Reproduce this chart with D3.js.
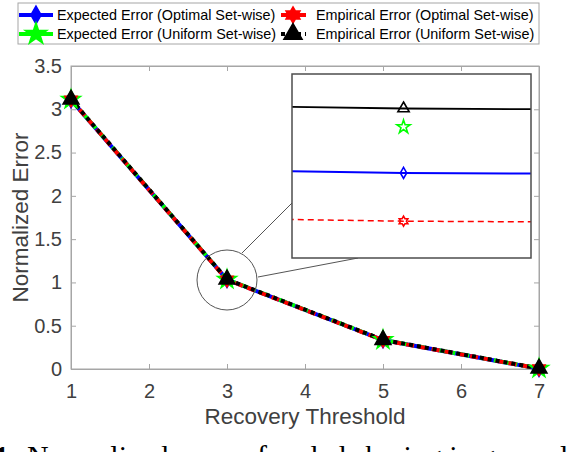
<!DOCTYPE html>
<html lang="en">
<head>
<meta charset="UTF-8">
<script src="https://d3js.org/d3.v7.min.js"></script>
<title>Normalized Error</title>
<style>
  body { margin: 0; background: #fff; }
  svg { display: block; font-family: "Liberation Sans", Arial, sans-serif; }
</style>
</head>
<body>
<script>
// data
var thresholds = [1, 3, 5, 7];
var expectedOptimal = [3.108, 1.0322, 0.334, 0.004];
var expectedUniform = [3.112, 1.0342, 0.336, 0.006];
var empiricalOptimal = [3.110, 1.0301, 0.333, 0.005];
var empiricalUniform = [3.115, 1.0350, 0.337, 0.007];
var seriesNames = [
  "Expected Error (Optimal Set-wise)",
  "Expected Error (Uniform Set-wise)",
  "Empirical Error (Optimal Set-wise)",
  "Empirical Error (Uniform Set-wise)"
];
var xTicks = [1, 2, 3, 4, 5, 6, 7];
var yTicks = [0, 0.5, 1, 1.5, 2, 2.5, 3, 3.5];

var width = 568, height = 452;
var svg = d3.select("body").append("svg")
  .attr("width", width)
  .attr("height", height);

var x = d3.scaleLinear().domain([1, 7]).range([71, 539]);
var y = d3.scaleLinear().domain([0, 3.5]).range([369, 66]);

// hexagram (6 point star) for red series
var symbolHexagram = {
  draw: function (ctx, size) {
    var r = Math.sqrt(size) * 0.62, ri = r * 0.577;
    for (var i = 0; i < 12; i++) {
      var a = -Math.PI / 2 + i * Math.PI / 6;
      var rr = i % 2 === 0 ? r : ri;
      if (i === 0) ctx.moveTo(rr * Math.cos(a), rr * Math.sin(a));
      else ctx.lineTo(rr * Math.cos(a), rr * Math.sin(a));
    }
    ctx.closePath();
  }
};

var series = [
  { name: seriesNames[0], values: expectedOptimal, color: "#0000ff", dash: null, symbol: d3.symbolDiamond, size: 70, inset: true, insetDash: null, insetWidth: 2 },
  { name: seriesNames[1], values: expectedUniform, color: "#00ff00", dash: "10,4,3,4", symbol: d3.symbolStar, size: 110, inset: false },
  { name: seriesNames[2], values: empiricalOptimal, color: "#ff0000", dash: "8,5", symbol: symbolHexagram, size: 130, inset: true, insetDash: "6,4", insetWidth: 1.5 },
  { name: seriesNames[3], values: empiricalUniform, color: "#000000", dash: "4,4", symbol: d3.symbolTriangle, size: 110, inset: true, insetDash: "1,1.5", insetWidth: 1.8 }
];

// axes
var axisColor = "#a6a6a6", labelColor = "#404040";

svg.append("rect")
  .attr("x", x(1)).attr("y", y(3.5))
  .attr("width", x(7) - x(1)).attr("height", y(0) - y(3.5))
  .attr("fill", "none").attr("stroke", axisColor);

var gx = svg.append("g").attr("transform", "translate(0," + y(0) + ")")
  .call(d3.axisBottom(x).tickValues(xTicks).tickSize(-5).tickPadding(8).tickFormat(d3.format("d")));
var gxTop = svg.append("g").attr("transform", "translate(0," + y(3.5) + ")")
  .call(d3.axisTop(x).tickValues(xTicks).tickSize(-5).tickFormat(""));
var gy = svg.append("g").attr("transform", "translate(" + x(1) + ",0)")
  .call(d3.axisLeft(y).tickValues(yTicks).tickSize(-5).tickPadding(9).tickFormat(d3.format("")));
var gyRight = svg.append("g").attr("transform", "translate(" + x(7) + ",0)")
  .call(d3.axisRight(y).tickValues(yTicks).tickSize(-5).tickFormat(""));

[gx, gxTop, gy, gyRight].forEach(function (g) {
  g.select(".domain").attr("stroke", axisColor);
  g.selectAll(".tick line").attr("stroke", axisColor);
  g.selectAll(".tick text").attr("fill", labelColor)
    .style("font-size", "20px").style("font-family", "Liberation Sans, Arial, sans-serif");
});
gx.selectAll(".tick text").attr("dy", "1.05em");

svg.append("text")
  .attr("x", (x(1) + x(7)) / 2).attr("y", 424)
  .attr("text-anchor", "middle").attr("fill", labelColor)
  .style("font-size", "22.5px")
  .text("Recovery Threshold");

svg.append("text")
  .attr("transform", "translate(28," + (y(0) + y(3.5)) / 2 + ") rotate(-90)")
  .attr("text-anchor", "middle").attr("fill", labelColor)
  .style("font-size", "22.5px")
  .text("Normalized Error");

// main lines
var line = d3.line()
  .x(function (d, i) { return x(thresholds[i]); })
  .y(function (d) { return y(d); });

series.forEach(function (s) {
  svg.append("path")
    .datum(s.values)
    .attr("fill", "none")
    .attr("stroke", s.color)
    .attr("stroke-width", 4)
    .attr("stroke-dasharray", s.dash)
    .attr("d", line);
});

series.forEach(function (s) {
  svg.selectAll(null)
    .data(s.values)
    .enter()
    .append("path")
    .attr("transform", function (d, i) { return "translate(" + x(thresholds[i]) + "," + y(d) + ")"; })
    .attr("d", d3.symbol().type(s.symbol).size(s.size))
    .attr("fill", s.color)
    .attr("stroke", s.color)
    .attr("stroke-width", 1.5);
});

// zoom circle and inset
var cx = x(3), cy = 280, cr = 30;
svg.append("circle")
  .attr("cx", cx).attr("cy", cy).attr("r", cr)
  .attr("fill", "none").attr("stroke", "#555").attr("stroke-width", 1);

var inset = { x0: 292, x1: 531, y0: 74, y1: 258 };
svg.append("line")
  .attr("x1", 242).attr("y1", 253).attr("x2", inset.x0).attr("y2", 203)
  .attr("stroke", "#555").attr("stroke-width", 1);
svg.append("line")
  .attr("x1", 258).attr("y1", 277).attr("x2", 358).attr("y2", inset.y1)
  .attr("stroke", "#555").attr("stroke-width", 1);

var xi = d3.scaleLinear().domain([2.99993, 3.00008]).range([inset.x0, inset.x1]);
var yi = d3.scaleLinear().domain([1.0285, 1.0365]).range([inset.y1, inset.y0]);

svg.append("clipPath").attr("id", "insetClip")
  .append("rect")
  .attr("x", inset.x0).attr("y", inset.y0)
  .attr("width", inset.x1 - inset.x0).attr("height", inset.y1 - inset.y0);

svg.append("rect")
  .attr("x", inset.x0).attr("y", inset.y0)
  .attr("width", inset.x1 - inset.x0).attr("height", inset.y1 - inset.y0)
  .attr("fill", "#fff");

var gi = svg.append("g").attr("clip-path", "url(#insetClip)");
var lineInset = d3.line()
  .x(function (d, i) { return xi(thresholds[i]); })
  .y(function (d) { return yi(d); });

series.forEach(function (s) {
  if (!s.inset) return;
  gi.append("path")
    .datum(s.values)
    .attr("fill", "none")
    .attr("stroke", s.color)
    .attr("stroke-width", s.insetWidth)
    .attr("stroke-dasharray", s.insetDash)
    .attr("d", lineInset);
});

series.forEach(function (s) {
  gi.selectAll(null)
    .data(s.values)
    .enter()
    .append("path")
    .attr("transform", function (d, i) { return "translate(" + xi(thresholds[i]) + "," + yi(d) + ")"; })
    .attr("d", d3.symbol().type(s.symbol).size(s.size * 0.5))
    .attr("fill", "none")
    .attr("stroke", s.color)
    .attr("stroke-width", 1.6);
});

svg.append("rect")
  .attr("x", inset.x0).attr("y", inset.y0)
  .attr("width", inset.x1 - inset.x0).attr("height", inset.y1 - inset.y0)
  .attr("fill", "none").attr("stroke", "#4d4d4d").attr("stroke-width", 1.5);

// legend
var legend = svg.append("g");
legend.append("rect")
  .attr("x", 18).attr("y", 3).attr("width", 521).attr("height", 41)
  .attr("fill", "#fff").attr("stroke", "#a6a6a6").attr("stroke-width", 1);

var legendPos = [
  { lx: 19, ly: 15 }, { lx: 19, ly: 34 }, { lx: 281, ly: 15 }, { lx: 281, ly: 34 }
];
series.forEach(function (s, i) {
  var p = legendPos[i];
  var lw = i < 2 ? 34 : 25;
  legend.append("line")
    .attr("x1", p.lx).attr("x2", p.lx + lw)
    .attr("y1", p.ly).attr("y2", p.ly)
    .attr("stroke", s.color).attr("stroke-width", 4)
    .attr("stroke-dasharray", i === 3 ? "4,4" : null);
  legend.append("path")
    .attr("transform", "translate(" + (p.lx + (i < 2 ? 17 : 12)) + "," + p.ly + ")")
    .attr("d", d3.symbol().type(s.symbol).size(s.size * 1.3))
    .attr("fill", s.color).attr("stroke", s.color).attr("stroke-width", 1.5);
  legend.append("text")
    .attr("x", i < 2 ? 57 : 316).attr("y", p.ly)
    .attr("dy", "0.36em")
    .attr("fill", "#000")
    .style("font-size", "14.4px")
    .text(s.name);
});

// caption of the page, mostly cut off by the bottom edge
var caption = svg.append("text")
  .attr("x", -6).attr("y", 466)
  .style("font-family", "Liberation Serif, Times New Roman, serif")
  .style("font-size", "30px")
  .attr("fill", "#000");
caption.append("tspan").style("font-weight", "bold").text("1:");
caption.append("tspan").attr("dx", 8).text("Normalized error of coded sharing in generalized l");
</script>
</body>
</html>
